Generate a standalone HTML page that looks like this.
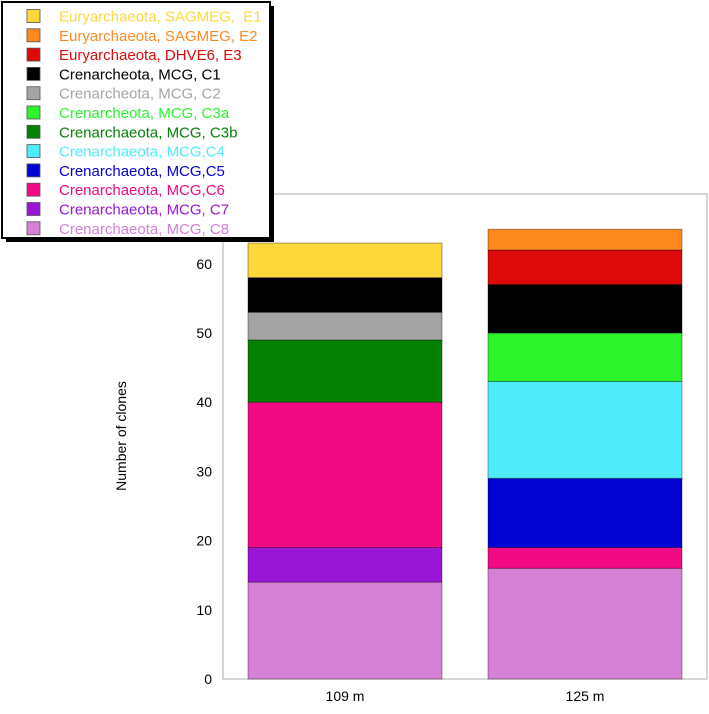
<!DOCTYPE html>
<html><head><meta charset="utf-8"><style>
body{margin:0;background:#fff;}
svg text{font-family:"Liberation Sans",sans-serif;white-space:pre;}
</style></head><body>
<svg width="709" height="709" viewBox="0 0 709 709">
<rect x="223" y="194" width="484" height="485" fill="none" stroke="#c8c8c8" stroke-width="1.5"/>
<g id="bars"></g>
<g id="yaxis"></g>
<g id="xaxis"></g>
<text x="126" y="436" font-size="14" text-anchor="middle" transform="rotate(-90 126 436)">Number of clones</text>
<rect x="6" y="6" width="268" height="236" fill="#000"/>
<rect x="2" y="2" width="268" height="236" fill="#fff" stroke="#000" stroke-width="2"/>
<g id="legend"></g>
</svg>
<script>
const categories = ["109 m", "125 m"];
const seriesNames = ["Euryarchaeota, SAGMEG,  E1","Euryarchaeota, SAGMEG, E2","Euryarchaeota, DHVE6, E3","Crenarcheota, MCG, C1","Crenarcheota, MCG, C2","Crenarcheota, MCG, C3a","Crenarchaeota, MCG, C3b","Crenarchaeota, MCG,C4","Crenarchaeota, MCG,C5","Crenarchaeota, MCG,C6","Crenarchaeota, MCG, C7","Crenarchaeota, MCG, C8"];
const seriesColors = ["#fdd83b","#fd8a1e","#dd0a0a","#000000","#a4a4a4","#2cf52c","#058105","#4eebfb","#0202d2","#f20a85","#9a16d6","#d680d6"];
const textColors = ["#fdd83b","#fd8a1e","#dd0a0a","#000000","#a4a4a4","#2cf52c","#058105","#4eebfb","#0202d2","#f20a85","#9a16d6","#d680d6"];
// values per series for [109 m, 125 m]; stacked bottom (C8) to top (E1)
const v109 = [5,0,0,5,4,0,9,0,0,21,5,14];
const v125 = [0,3,5,7,0,7,0,14,10,3,0,16];
const yTicks = [0,10,20,30,40,50,60];

const NS="http://www.w3.org/2000/svg";
const y0=679, pxPer=6.92;
const yScale=v=>y0-v*pxPer;
const barX=[248,488], barW=194;
const bars=document.getElementById('bars');
[v109,v125].forEach((vals,ci)=>{
  let cum=0;
  for(let s=seriesNames.length-1;s>=0;s--){
    const v=vals[s]; if(!v) continue;
    const r=document.createElementNS(NS,'rect');
    r.setAttribute('x',barX[ci]); r.setAttribute('width',barW);
    r.setAttribute('y',yScale(cum+v)); r.setAttribute('height',v*pxPer);
    r.setAttribute('fill',seriesColors[s]); r.setAttribute('stroke','rgba(0,0,0,0.35)'); r.setAttribute('stroke-width','1');
    
    
    bars.appendChild(r); cum+=v;
  }
  const t=document.createElementNS(NS,'text');
  t.setAttribute('x',barX[ci]+barW/2); t.setAttribute('y',701); t.setAttribute('font-size','14'); t.setAttribute('text-anchor','middle');
  t.textContent=categories[ci];
  
  
  document.getElementById('xaxis').appendChild(t);
});
yTicks.forEach(v=>{
  const t=document.createElementNS(NS,'text');
  t.setAttribute('x',212); t.setAttribute('y',yScale(v)+5); t.setAttribute('font-size','14'); t.setAttribute('text-anchor','end');
  t.textContent=v;
  
  
  document.getElementById('yaxis').appendChild(t);
});
const lg=document.getElementById('legend');
seriesNames.forEach((n,i)=>{
  const cy=16+i*19.3;
  const r=document.createElementNS(NS,'rect');
  r.setAttribute('x',27); r.setAttribute('y',cy-6.5); r.setAttribute('width',13); r.setAttribute('height',13);
  r.setAttribute('fill',seriesColors[i]); r.setAttribute('stroke','#555'); r.setAttribute('stroke-width','0.8');
  
  
  lg.appendChild(r);
  const t=document.createElementNS(NS,'text');
  t.setAttribute('x',59); t.setAttribute('y',cy+5.5); t.setAttribute('font-size','15'); t.setAttribute('fill',textColors[i]);
  t.textContent=n;
  
  
  lg.appendChild(t);
});
</script>
</body></html>
